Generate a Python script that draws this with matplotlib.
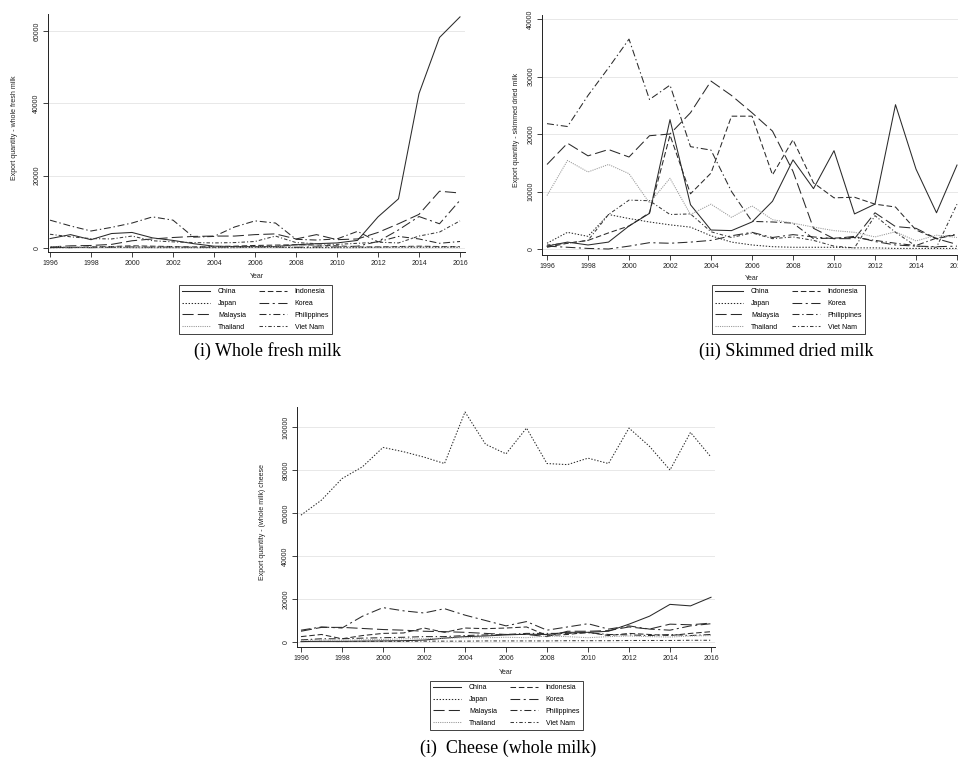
import matplotlib
matplotlib.use("Agg")
import matplotlib.pyplot as plt

years = list(range(1996, 2017))
countries = ["China", "Indonesia", "Japan", "Korea", "Malaysia", "Philippines", "Thailand", "Viet Nam"]

# whole fresh milk
fresh_china = [2600, 3700, 2300, 4000, 4300, 2800, 2100, 1200, 500, 400, 400, 400, 900, 1200, 1400, 2100, 8600, 13600, 42700, 58200, 63900]
fresh_indonesia = [200, 100, 300, 400, 600, 500, 400, 300, 400, 500, 700, 800, 900, 800, 600, 300, 300, 400, 500, 400, 400]
fresh_japan = [100, 100, 200, 200, 100, 100, 100, 100, 100, 100, 200, 200, 100, 100, 100, 100, 200, 200, 200, 200, 200]
fresh_korea = [100, 200, 100, 200, 300, 200, 300, 200, 200, 300, 300, 300, 200, 300, 300, 500, 1800, 5000, 8700, 6700, 13200]
fresh_malaysia = [300, 600, 700, 1000, 2000, 2500, 2900, 3200, 3300, 3300, 3700, 3900, 2500, 3700, 2300, 2500, 4300, 6700, 9300, 15700, 15200]
fresh_philippines = [7700, 6100, 4700, 5700, 6900, 8600, 7700, 3000, 3200, 5800, 7500, 6900, 2400, 2200, 2500, 4600, 1700, 3200, 2500, 1300, 1800]
fresh_thailand = [400, 300, 200, 300, 200, 200, 300, 200, 300, 200, 300, 300, 600, 700, 400, 300, 200, 300, 300, 300, 300]
fresh_vietnam = [3800, 3100, 2600, 2500, 3300, 2000, 1700, 1500, 1400, 1500, 1800, 3300, 1500, 1200, 1000, 1300, 1600, 1400, 3300, 4400, 7500]

# skimmed dried milk
skim_china = [500, 1200, 700, 1200, 4000, 6200, 22500, 7700, 3300, 3200, 4700, 8300, 15500, 10500, 17100, 6100, 7800, 25100, 13900, 6300, 14600]
skim_indonesia = [300, 1000, 1500, 2800, 4000, 6300, 19800, 9600, 13200, 23100, 23100, 12900, 19000, 11500, 8900, 9000, 7800, 7300, 3300, 1800, 2500]
skim_japan = [1000, 2900, 2200, 6000, 5300, 4700, 4200, 3800, 2300, 1200, 700, 400, 300, 300, 300, 200, 200, 100, 100, 100, 100]
skim_korea = [500, 300, 100, 0, 500, 1100, 1000, 1200, 1500, 2300, 2900, 2000, 2500, 2100, 1800, 2200, 1300, 700, 500, 400, 500]
skim_malaysia = [14700, 18400, 16200, 17300, 16000, 19700, 20000, 23700, 29200, 26700, 23700, 20500, 13500, 3600, 1800, 1800, 6300, 3900, 3600, 1800, 800]
skim_philippines = [21800, 21300, 26700, 31500, 36500, 26000, 28500, 17800, 17200, 10000, 4800, 4700, 4500, 1800, 1900, 2000, 1500, 1000, 600, 1900, 2600]
skim_thailand = [9300, 15400, 13400, 14700, 13100, 8000, 12300, 6000, 7800, 5500, 7500, 5100, 4500, 3800, 3200, 2900, 2100, 3000, 1400, 2400, 2000]
skim_vietnam = [700, 1000, 1500, 6000, 8500, 8400, 6000, 6100, 3000, 2000, 2800, 1800, 2100, 1500, 500, 200, 5800, 2900, 500, 300, 7800]

# cheese (whole milk)
cheese_china = [200, 300, 300, 400, 500, 600, 900, 1800, 2500, 2800, 3300, 3600, 3500, 4500, 4500, 5000, 8300, 12000, 17500, 16800, 20800]
cheese_indonesia = [2500, 3500, 1500, 3000, 4000, 4200, 6500, 4500, 6500, 6200, 6500, 7000, 3000, 3500, 4500, 3000, 4000, 3500, 3000, 4000, 4800]
cheese_japan = [59000, 66000, 76000, 81500, 90500, 88500, 86000, 83000, 107000, 92000, 87500, 99500, 83000, 82500, 85500, 83000, 99500, 91000, 80000, 97500, 86000]
cheese_korea = [5500, 7000, 6500, 12000, 16000, 14500, 13500, 15500, 12500, 10000, 7500, 9500, 5500, 7000, 8500, 6000, 7500, 6000, 5500, 7500, 8500]
cheese_malaysia = [5000, 6800, 6800, 6300, 5800, 5500, 5000, 4800, 4500, 4000, 3500, 3500, 2500, 5000, 5000, 5300, 7000, 6000, 8300, 8000, 8800]
cheese_philippines = [1000, 1500, 1500, 1800, 2000, 2200, 2500, 2500, 3000, 3300, 3500, 4000, 4000, 4000, 4300, 3500, 3300, 3000, 3500, 3000, 3500]
cheese_thailand = [800, 1000, 800, 1000, 1200, 1500, 1500, 1800, 2000, 2000, 2200, 2000, 2800, 2500, 2000, 2500, 2800, 2500, 2300, 2800, 3000]
cheese_vietnam = [200, 300, 200, 300, 300, 300, 400, 400, 400, 500, 500, 500, 500, 600, 600, 600, 700, 700, 700, 800, 800]

plt.rcParams['font.family'] = ['Liberation Sans', 'DejaVu Sans']
plt.rcParams['lines.scale_dashes'] = False

W, H = 958, 759
fig = plt.figure(figsize=(W / 100, H / 100), dpi=100)

def px(x, y):
    return x / W, 1 - y / H

styles = {
    "China": dict(color='#2a2a2a', linestyle='-'),
    "Indonesia": dict(color='#2a2a2a', linestyle=(0, (4, 2))),
    "Japan": dict(color='#2a2a2a', linestyle=(0, (1, 1.2))),
    "Korea": dict(color='#2a2a2a', linestyle=(0, (7, 2.5, 1.5, 2.5))),
    "Malaysia": dict(color='#2a2a2a', linestyle=(0, (8, 3))),
    "Philippines": dict(color='#2a2a2a', linestyle=(0, (5, 2, 1, 2))),
    "Thailand": dict(color='#9a9a9a', linestyle=(0, (0.8, 0.8))),
    "Viet Nam": dict(color='#3a3a3a', linestyle=(0, (2.5, 1.5, 0.8, 1.5))),
}

def make_panel(rect_px, xlim, ylim, yticks, series, ylabel, ylabel_x, year_y, legend_xy, caption, caption_xy):
    left, top, right, bottom = rect_px
    ax = fig.add_axes([left / W, 1 - bottom / H, (right - left) / W, (bottom - top) / H])
    for name, vals in zip(countries, series):
        ax.plot(years, vals, linewidth=0.75, label=name, **styles[name])
    ax.set_xlim(*xlim)
    ax.set_ylim(*ylim)
    ax.set_xticks(range(1996, 2017, 2))
    ax.set_yticks(yticks)
    ax.set_yticklabels([str(t) for t in yticks], rotation=90, va='center')
    ax.tick_params(labelsize=5, length=3.5, width=0.6, pad=2, colors='#222222')
    ax.grid(axis='y', color='#e4e4e4', linewidth=0.6)
    ax.set_axisbelow(True)
    for s in ['top', 'right']:
        ax.spines[s].set_visible(False)
    for s in ['left', 'bottom']:
        ax.spines[s].set_linewidth(0.7)
        ax.spines[s].set_color('#222222')
    fig.text(*px(ylabel_x, (top + bottom) / 2 - 5), ylabel, rotation=90, fontsize=5, ha='center', va='center', color='#222222')
    fig.text(*px((left + right) / 2, year_y), "Year", fontsize=5, ha='center', va='center', color='#222222')
    handles, labels = ax.get_legend_handles_labels()
    order = [0, 2, 4, 6, 1, 3, 5, 7]
    leg = ax.legend([handles[i] for i in order], [labels[i] for i in order], ncol=2,
                    loc='upper left', bbox_to_anchor=px(*legend_xy), bbox_transform=fig.transFigure,
                    fontsize=5, frameon=True, fancybox=False, edgecolor='#222222', framealpha=1,
                    handlelength=4.0, handletextpad=1.15, columnspacing=1.9, labelspacing=0.7,
                    borderpad=0.45, borderaxespad=0)
    leg.get_frame().set_linewidth(0.6)
    fig.text(*px(*caption_xy), caption, fontsize=13, family='Liberation Serif', ha='center', va='center')
    return ax

make_panel((48, 14, 465, 252), (1995.902, 2016.244), (-1106, 64700), [0, 20000, 40000, 60000],
           [fresh_china, fresh_indonesia, fresh_japan, fresh_korea, fresh_malaysia, fresh_philippines, fresh_thailand, fresh_vietnam],
           "Export quantity - whole fresh milk", 15, 276, (179, 285), "(i) Whole fresh milk", (268, 351))

make_panel((542, 15, 962, 255), (1995.756, 2016.244), (-1043, 40696), [0, 10000, 20000, 30000, 40000],
           [skim_china, skim_indonesia, skim_japan, skim_korea, skim_malaysia, skim_philippines, skim_thailand, skim_vietnam],
           "Export quantity - skimmed dried milk", 517, 279, (712, 285), "(ii) Skimmed dried milk", (786, 351))

make_panel((297, 407, 715, 647), (1995.805, 2016.195), (-2326, 109300), [0, 20000, 40000, 60000, 80000, 100000],
           [cheese_china, cheese_indonesia, cheese_japan, cheese_korea, cheese_malaysia, cheese_philippines, cheese_thailand, cheese_vietnam],
           "Export quantity - (whole milk) cheese", 263, 672, (430, 681), "(i)  Cheese (whole milk)", (508, 748))

fig.savefig("out.png", dpi=100)
